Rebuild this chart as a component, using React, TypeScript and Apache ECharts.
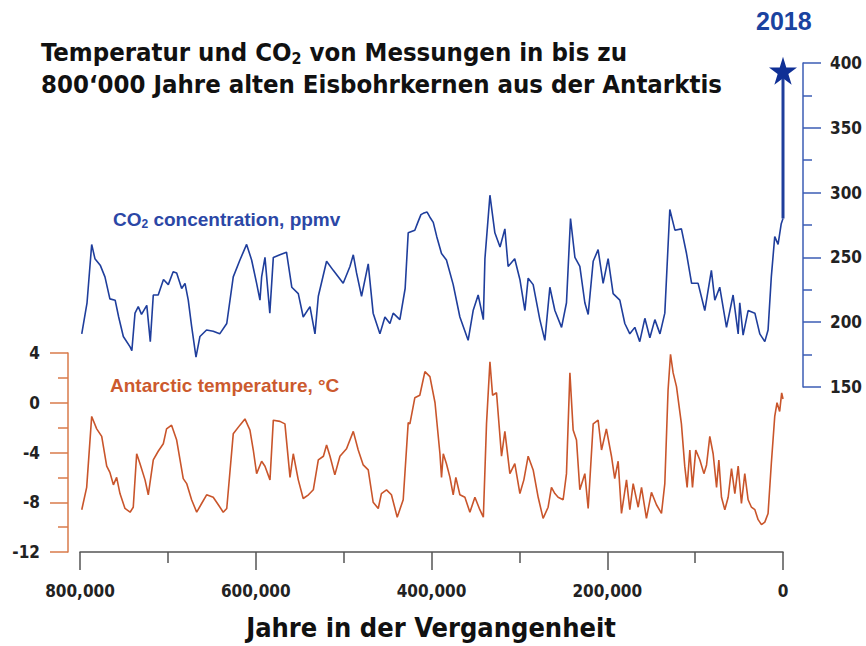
import React, { useEffect, useRef } from "react";
import * as echarts from "echarts";

// ---- Data (ages in thousand years before present) ----
const co2Age = [798, 792, 786.7, 783, 777, 771.6, 766, 760, 756, 750.7, 743, 741, 737.4, 733.7, 730, 724, 720, 716.6, 711, 705, 699.5, 694, 690, 684.3, 680.5, 676.8, 673, 668, 663.5, 656, 648.4, 641, 633, 625.6, 618, 610.4, 604.7, 599, 595.2, 593.3, 589.5, 584, 580, 572.5, 565, 559, 551.6, 546, 538.3, 532.6, 528.8, 519.4, 511.8, 500.5, 492.8, 489, 485.3, 479.6, 472, 466.4, 458.7, 453, 447.3, 443.6, 436, 430, 426.5, 419, 415, 412, 409.4, 405, 401.8, 398, 394, 388.6, 383, 375.3, 367.7, 358.3, 352.6, 346.9, 341, 339.2, 333.5, 327.9, 322, 316.5, 312.8, 305.3, 299.4, 293.7, 290, 284.3, 276.7, 271, 265.3, 259.6, 252, 246.4, 241.8, 236.8, 231.2, 225.5, 221.7, 216, 210.4, 204.7, 199, 193.3, 185.7, 180, 174.3, 168.6, 163, 157.2, 151.5, 145.8, 140, 134.5, 128.8, 123, 115.6, 109.8, 104, 96.6, 89, 81.5, 77.6, 72, 64.3, 56.8, 51, 49.2, 45.4, 39.7, 32, 26.4, 20.7, 17, 13.3, 9.4, 5.6, 2, 0];
const co2Ppm = [191, 215, 260, 249, 244, 235, 218, 217, 204, 189, 181, 178, 207, 212, 206, 213, 185, 221, 221, 233, 229, 239, 238, 226, 230, 217, 197, 173, 189, 194, 193, 191, 199, 235, 248, 260, 248, 230, 217, 235, 250, 207, 250, 252, 254, 227, 222, 204, 212, 191, 220, 247, 240, 230, 243, 252, 238, 220, 245, 207, 191, 204, 199, 207, 202, 226, 269, 271, 278, 283, 284, 285, 281, 277, 266, 253, 248, 229, 204, 186, 209, 221, 202, 249, 298, 269, 258, 272, 243, 249, 233, 209, 234, 229, 202, 186, 227, 209, 196, 215, 280, 250, 243, 215, 206, 247, 256, 230, 249, 222, 217, 199, 191, 196, 185, 203, 188, 202, 191, 207, 287, 271, 272, 253, 230, 230, 209, 240, 217, 227, 196, 221, 191, 215, 190, 209, 207, 191, 185, 194, 235, 266, 260, 276, 280];

const modernAge = [0, 0];
const modernPpm = [280, 394];

const tempAge = [798, 792.4, 786.7, 781, 775.3, 769.6, 766, 762, 758.3, 754.5, 748.8, 743, 739.4, 735.5, 731.7, 726, 722.3, 716.6, 711, 705.2, 701.5, 695.8, 690, 682.5, 678.6, 673, 667.2, 661.6, 655.9, 648.4, 642.6, 637, 633, 625.6, 618, 612.3, 606.6, 602.8, 599, 593.3, 589.5, 583.8, 580, 572.5, 566.8, 561, 557.3, 551.6, 546, 540, 534.5, 528.8, 523, 519.4, 515.5, 510, 504.2, 496.7, 489, 483.4, 477.7, 472, 466.4, 460.6, 457, 451.2, 445.6, 439, 432.2, 426.5, 424.6, 419, 413.3, 407.5, 401.8, 396, 390.4, 388.6, 386.6, 383, 379, 375.3, 372.3, 367.7, 362, 356.3, 350.6, 345, 341, 337.4, 333.5, 330.5, 326, 320.3, 316.5, 310.8, 305.2, 299.4, 294.9, 290, 284.3, 278.6, 273, 267.3, 263.5, 259.6, 255.9, 250.2, 246.4, 242.5, 238.8, 235, 231.2, 225.5, 221.7, 216, 210.4, 206.5, 201, 195.2, 191.5, 187.6, 183.8, 178.1, 174.3, 170.5, 164.8, 161, 155.4, 149.7, 144, 138.3, 134.5, 130.8, 128, 125, 121.2, 115.6, 111.8, 109.1, 106, 103, 99.3, 94.6, 90, 87, 83.3, 79.5, 75.6, 73, 70, 66.2, 62.4, 58.6, 54.8, 51, 47.3, 43.5, 39.7, 35.9, 32, 28.3, 24.5, 20.7, 17, 13.3, 9.4, 6.8, 3.8, 1.5, 0];
const tempC = [-8.6, -6.8, -1.1, -2.1, -2.7, -5.1, -5.6, -6.6, -6.0, -7.3, -8.5, -8.8, -8.4, -4.1, -4.9, -6.2, -7.4, -4.6, -3.9, -3.3, -2.1, -1.8, -3.0, -6.1, -6.5, -7.8, -8.8, -8.1, -7.4, -7.6, -8.2, -8.8, -8.5, -2.5, -1.8, -1.3, -2.2, -3.8, -5.7, -4.7, -5.1, -6.2, -1.4, -1.5, -1.7, -6.0, -4.1, -6.2, -7.7, -7.4, -7.0, -4.6, -4.3, -3.4, -4.3, -5.8, -4.3, -3.7, -2.3, -3.8, -5.0, -5.4, -8.0, -8.5, -7.3, -7.0, -7.4, -9.2, -7.8, -1.6, -1.7, 0.4, 0.6, 2.5, 2.1, 0.0, -4.1, -6.0, -4.1, -4.9, -6.0, -7.4, -6.0, -7.4, -7.6, -8.8, -7.6, -8.6, -9.2, -1.7, 3.3, 0.6, 0.8, -4.3, -2.3, -5.7, -4.9, -7.3, -6.2, -4.3, -5.4, -7.6, -9.3, -8.4, -6.8, -7.3, -7.6, -7.8, -5.7, 2.4, -2.2, -3.0, -7.0, -5.7, -8.5, -1.7, -1.4, -3.8, -2.1, -4.3, -6.1, -4.7, -8.9, -6.2, -8.6, -6.5, -8.4, -6.8, -9.3, -7.2, -8.2, -8.9, -6.5, 1.0, 3.9, 2.4, 1.3, -1.7, -5.1, -6.8, -3.8, -6.8, -3.8, -4.6, -5.7, -5.0, -2.7, -4.1, -6.8, -4.6, -7.6, -8.6, -7.6, -5.3, -7.3, -5.1, -8.1, -5.7, -7.8, -8.4, -8.6, -9.4, -9.8, -9.6, -8.9, -4.9, -1.1, 0.0, -0.7, 0.8, 0.3];

const xTicks = [0, 200, 400, 600, 800];

const NARROW = "Liberation Sans Narrow, Arial Narrow, DejaVu Sans Condensed, sans-serif";
const SANS = "Liberation Sans, Arial, Helvetica, sans-serif";
const BLUE = "#1f3e9c";
const BLUE_AXIS = "#3b5cb5";
const ORANGE = "#c9552b";
const ORANGE_AXIS = "#d97a4a";
const GREY = "#555555";
const STAR = "path://M50,0 L61.2,34.5 L97.6,34.5 L68.2,55.9 L79.4,90.5 L50,69.1 L20.6,90.5 L31.8,55.9 L2.4,34.5 L38.8,34.5 Z";

function pairs(a: number[], b: number[]) {
  return a.map((v, i) => [v, b[i]]);
}

export default function App() {
  const ref = useRef<HTMLDivElement>(null);
  useEffect(() => {
    if (!ref.current) return;
    const chart = echarts.init(ref.current, null, { renderer: "svg" });
    const option: any = {
      animation: false,
      backgroundColor: "#ffffff",
      grid: [
        { left: 80, right: 83, top: 353, height: 199 },
        { left: 80, right: 83, top: 63, height: 324 },
      ],
      xAxis: [
        {
          gridIndex: 0,
          type: "value",
          min: 0,
          max: 800,
          interval: 200,
          inverse: true,
          axisLine: { onZero: false, lineStyle: { color: GREY, width: 1.5 } },
          axisTick: { length: 18, lineStyle: { color: GREY, width: 1.5 } },
          minorTick: { show: true, splitNumber: 2, length: 11, lineStyle: { color: GREY, width: 1.5 } },
          splitLine: { show: false },
          axisLabel: {
            margin: 30,
            color: "#222",
            fontFamily: NARROW,
            fontWeight: "bold",
            fontSize: 17,
            formatter: (v: number) => (xTicks.includes(v) ? (v * 1000).toLocaleString("en-US") : ""),
          },
        },
        { gridIndex: 1, type: "value", min: 0, max: 800, inverse: true, show: false },
      ],
      yAxis: [
        {
          gridIndex: 0,
          type: "value",
          min: -12,
          max: 4,
          interval: 4,
          position: "left",
          offset: 12,
          axisLine: { show: true, onZero: false, lineStyle: { color: ORANGE_AXIS, width: 1.5 } },
          axisTick: { show: true, length: 18, lineStyle: { color: ORANGE_AXIS, width: 1.5 } },
          minorTick: { show: true, splitNumber: 2, length: 10, lineStyle: { color: ORANGE_AXIS, width: 1.5 } },
          splitLine: { show: false },
          axisLabel: { margin: 28, color: "#222", fontFamily: NARROW, fontWeight: "bold", fontSize: 17 },
        },
        {
          gridIndex: 1,
          type: "value",
          min: 150,
          max: 400,
          interval: 50,
          position: "right",
          offset: 20,
          axisLine: { show: true, onZero: false, lineStyle: { color: BLUE_AXIS, width: 1.5 } },
          axisTick: { show: true, length: 18, lineStyle: { color: BLUE_AXIS, width: 1.5 } },
          minorTick: { show: true, splitNumber: 2, length: 9, lineStyle: { color: BLUE_AXIS, width: 1.5 } },
          splitLine: { show: false },
          axisLabel: { margin: 27, color: "#222", fontFamily: NARROW, fontWeight: "bold", fontSize: 17 },
        },
      ],
      series: [
        {
          type: "line",
          name: "Temperatur",
          xAxisIndex: 0,
          yAxisIndex: 0,
          data: pairs(tempAge, tempC),
          showSymbol: false,
          symbol: "none",
          clip: false,
          lineStyle: { color: ORANGE, width: 1.6 },
        },
        {
          type: "line",
          name: "CO2",
          xAxisIndex: 1,
          yAxisIndex: 1,
          data: pairs(co2Age, co2Ppm),
          showSymbol: false,
          symbol: "none",
          clip: false,
          lineStyle: { color: BLUE, width: 1.6 },
        },
        {
          type: "line",
          name: "2018",
          xAxisIndex: 1,
          yAxisIndex: 1,
          data: [
            { value: [modernAge[0], modernPpm[0]], symbol: "none" },
            { value: [modernAge[1], modernPpm[1]], symbol: STAR, symbolSize: 28 },
          ],
          showSymbol: true,
          clip: false,
          lineStyle: { color: BLUE, width: 3 },
          itemStyle: { color: "#0f2f95" },
        },
      ],
      graphic: [
        {
          type: "text",
          left: 41,
          top: 38,
          style: {
            text: "{a|Temperatur und CO}{s|2}{a| von Messungen in bis zu}\n{a|800‘000 Jahre alten Eisbohrkernen aus der Antarktis}",
            rich: {
              a: { fontFamily: NARROW, fontWeight: "bold", fontSize: 25.5, lineHeight: 32, fill: "#111" },
              s: { fontFamily: NARROW, fontWeight: "bold", fontSize: 16, lineHeight: 32, fill: "#111", padding: [12, 0, 0, 0] },
            },
          },
        },
        {
          type: "text",
          left: 756,
          top: 8,
          style: { text: "2018", fontFamily: SANS, fontWeight: "bold", fontSize: 25, fill: "#1a43a0" },
        },
        {
          type: "text",
          left: 113,
          top: 208,
          style: {
            text: "{a|CO}{s|2}{a| concentration, ppmv}",
            rich: {
              a: { fontFamily: SANS, fontWeight: "bold", fontSize: 19, lineHeight: 24, fill: "#2b47a6" },
              s: { fontFamily: SANS, fontWeight: "bold", fontSize: 12, lineHeight: 24, fill: "#2b47a6", padding: [10, 0, 0, 0] },
            },
          },
        },
        {
          type: "text",
          left: 110,
          top: 376,
          style: { text: "Antarctic temperature, °C", fontFamily: SANS, fontWeight: "bold", fontSize: 19, fill: "#cc5a2e" },
        },
        {
          type: "text",
          x: 431,
          y: 614,
          style: { text: "Jahre in der Vergangenheit", fontFamily: NARROW, fontWeight: "bold", fontSize: 27, fill: "#111", textAlign: "center", textVerticalAlign: "top" },
        },
      ],
    };
    chart.setOption(option);
    return () => chart.dispose();
  }, []);
  return (
    <div
      ref={ref}
      style={{ position: "absolute", left: 0, top: 0, width: 866, height: 646, background: "#fff" }}
    />
  );
}
